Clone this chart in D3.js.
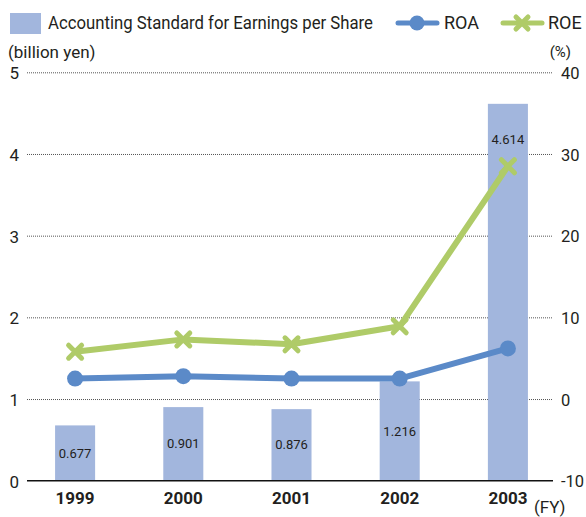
<!DOCTYPE html>
<html>
<head>
<meta charset="utf-8">
<script src="https://cdn.jsdelivr.net/npm/d3@7/dist/d3.min.js"></script>
<style>
  html, body { margin: 0; padding: 0; background: #fff; }
  svg { display: block; }
  text { font-family: "Roboto", "Liberation Sans", sans-serif; fill: #231f20; }
</style>
</head>
<body>
<svg id="chart" width="586" height="517"></svg>
<script>
// Fiscal years shown on the x axis
const years = ["1999", "2000", "2001", "2002", "2003"];
// Accounting standard for earnings per share (billion yen)
const earnings = [0.677, 0.901, 0.876, 1.216, 4.614];
// Return on assets (%)
const roa = [2.5, 2.8, 2.5, 2.5, 6.2];
// Return on equity (%)
const roe = [5.8, 7.3, 6.7, 8.9, 28.5];
// Axis ticks
const leftTicks = [0, 1, 2, 3, 4, 5];
const rightTicks = [-10, 0, 10, 20, 30, 40];

const COLORS = { bar: "#a2b6dd", roa: "#5b8ac8", roe: "#afcb68", grid: "#555", axis: "#111" };

const svg = d3.select("#chart");
const plot = { left: 27, right: 553, top: 72.3, bottom: 480.7 };

const x = d3.scaleBand()
  .domain(years)
  .range([21, 562])
  .paddingInner(0.63)
  .paddingOuter(0.315);
const yLeft = d3.scaleLinear().domain([0, 5]).range([plot.bottom, plot.top]);
const yRight = d3.scaleLinear().domain([-10, 40]).range([plot.bottom, plot.top]);
const cx = d => x(d) + x.bandwidth() / 2;

// Dotted gridlines (skip the baseline, which is a solid rule)
const gridAxis = d3.axisLeft(yLeft)
  .tickValues(leftTicks.filter(t => t > 0))
  .tickSize(-(plot.right - plot.left))
  .tickFormat("");
const grid = svg.append("g")
  .attr("transform", `translate(${plot.left},0)`)
  .call(gridAxis);
grid.select(".domain").remove();
grid.selectAll(".tick line")
  .attr("stroke", COLORS.grid)
  .attr("stroke-width", 1)
  .attr("stroke-dasharray", "1,1");

// Bars
svg.append("g").selectAll("rect")
  .data(years)
  .join("rect")
  .attr("x", d => x(d))
  .attr("width", x.bandwidth())
  .attr("y", (d, i) => yLeft(earnings[i]))
  .attr("height", (d, i) => yLeft(0) - yLeft(earnings[i]))
  .attr("fill", COLORS.bar);

// Bar value labels: centred in short bars, near the top of tall ones
svg.append("g").selectAll("text")
  .data(years)
  .join("text")
  .attr("x", d => cx(d))
  .attr("y", (d, i) => {
    const top = yLeft(earnings[i]);
    const h = yLeft(0) - top;
    return (h > 200 ? top + 36 : top + h / 2) + 4.5;
  })
  .attr("text-anchor", "middle")
  .attr("font-size", 13)
  .text((d, i) => d3.format(".3f")(earnings[i]));

// Baseline
svg.append("line")
  .attr("x1", plot.left).attr("x2", plot.right)
  .attr("y1", yLeft(0)).attr("y2", yLeft(0))
  .attr("stroke", COLORS.axis).attr("stroke-width", 1.5);

// Plain integer labels with an ASCII hyphen for negatives
const intLabel = d => String(d);

// Left axis labels
const leftAxis = d3.axisLeft(yLeft).tickValues(leftTicks).tickFormat(intLabel).tickSize(0).tickPadding(0);
const la = svg.append("g").attr("transform", "translate(19,0)").call(leftAxis);
la.select(".domain").remove();
la.selectAll("text")
  .attr("font-family", null).attr("font-size", 17).attr("fill", "#231f20")
  .attr("dy", "0.38em");

// Right axis labels
const rightAxis = d3.axisRight(yRight).tickValues(rightTicks).tickFormat(intLabel).tickSize(0).tickPadding(0);
const ra = svg.append("g").attr("transform", "translate(561,0)").call(rightAxis);
ra.select(".domain").remove();
ra.selectAll("text")
  .attr("font-family", null).attr("font-size", 16.5).attr("fill", "#231f20")
  .attr("text-anchor", "start")
  .attr("dy", "0.38em");

// X axis labels
const xAxis = d3.axisBottom(x).tickSize(0).tickPadding(0);
const xa = svg.append("g").attr("transform", `translate(0,${plot.bottom + 23})`).call(xAxis);
xa.select(".domain").remove();
xa.selectAll("text")
  .attr("font-family", null).attr("font-size", 17).attr("font-weight", "bold").attr("fill", "#231f20")
  .attr("dy", "0");

// Unit labels
svg.append("text").attr("x", 8).attr("y", 58).attr("font-size", 17).text("(billion yen)");
svg.append("text").attr("x", 571).attr("y", 57).attr("font-size", 15).attr("text-anchor", "end").text("(%)");
svg.append("text").attr("x", 534).attr("y", 513).attr("font-size", 17).text("(FY)");

// Lines
const line = d3.line().x(d => cx(d.year)).y(d => yRight(d.v));
const roaPts = years.map((year, i) => ({ year, v: roa[i] }));
const roePts = years.map((year, i) => ({ year, v: roe[i] }));

svg.append("path").datum(roePts)
  .attr("d", line).attr("fill", "none")
  .attr("stroke", COLORS.roe).attr("stroke-width", 6).attr("stroke-linejoin", "round");
svg.append("path").datum(roaPts)
  .attr("d", line).attr("fill", "none")
  .attr("stroke", COLORS.roa).attr("stroke-width", 6).attr("stroke-linejoin", "round");

// Markers
const xMark = (g, s) => g.append("path")
  .attr("d", `M${-s},${-s}L${s},${s}M${-s},${s}L${s},${-s}`)
  .attr("stroke", COLORS.roe).attr("stroke-width", 5).attr("stroke-linecap", "round");

svg.append("g").selectAll("g")
  .data(roePts)
  .join("g")
  .attr("transform", d => `translate(${cx(d.year)},${yRight(d.v)})`)
  .each(function () { xMark(d3.select(this), 6.5); });

svg.append("g").selectAll("circle")
  .data(roaPts)
  .join("circle")
  .attr("cx", d => cx(d.year))
  .attr("cy", d => yRight(d.v))
  .attr("r", 8)
  .attr("fill", COLORS.roa);

// Legend
const lg = svg.append("g");
lg.append("rect").attr("x", 10).attr("y", 13).attr("width", 31).attr("height", 21).attr("fill", COLORS.bar);
lg.append("text").attr("x", 48).attr("y", 29).attr("font-size", 18)
  .attr("textLength", 325).attr("lengthAdjust", "spacingAndGlyphs")
  .text("Accounting Standard for Earnings per Share");

lg.append("line").attr("x1", 398).attr("x2", 437).attr("y1", 23).attr("y2", 23)
  .attr("stroke", COLORS.roa).attr("stroke-width", 5).attr("stroke-linecap", "round");
lg.append("circle").attr("cx", 417).attr("cy", 23).attr("r", 7.5).attr("fill", COLORS.roa);
lg.append("text").attr("x", 444).attr("y", 29).attr("font-size", 18).text("ROA");

lg.append("line").attr("x1", 503).attr("x2", 542).attr("y1", 23).attr("y2", 23)
  .attr("stroke", COLORS.roe).attr("stroke-width", 5).attr("stroke-linecap", "round");
const lgx = lg.append("g").attr("transform", "translate(522,23)");
xMark(lgx, 6);
lg.append("text").attr("x", 548).attr("y", 29).attr("font-size", 18).text("ROE");
</script>
</body>
</html>
